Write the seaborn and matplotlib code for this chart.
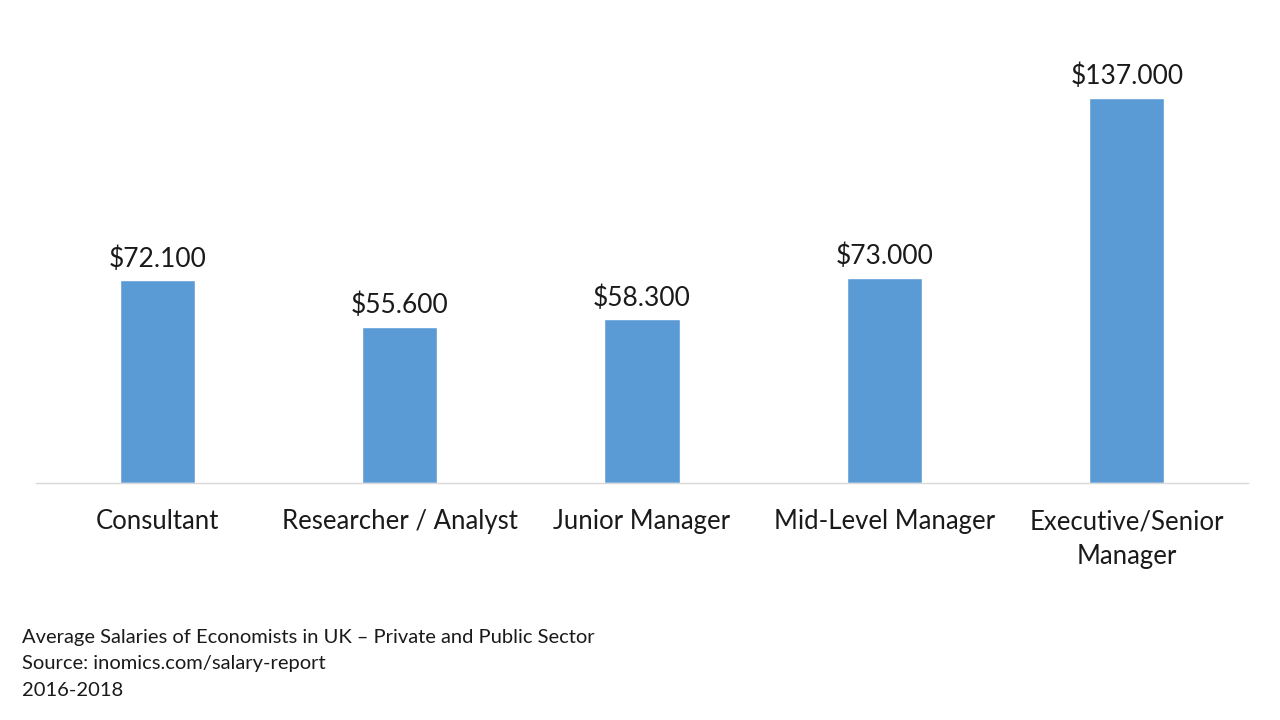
import matplotlib
matplotlib.use("Agg")
import matplotlib.pyplot as plt
import seaborn as sns
import pandas as pd

# %% data
roles = ["Consultant", "Researcher / Analyst", "Junior Manager",
         "Mid-Level Manager", "Executive/Senior\nManager"]
salaries = [72100, 55600, 58300, 73000, 137000]
value_labels = ["$72.100", "$55.600", "$58.300", "$73.000", "$137.000"]
notes = ["Average Salaries of Economists in UK \u2013 Private and Public Sector",
         "Source: inomics.com/salary-report",
         "2016-2018"]

df = pd.DataFrame({"role": roles, "salary": salaries})

# %% plot
sns.set_style("white")
plt.rcParams["font.family"] = ["Lato", "DejaVu Sans"]

fig = plt.figure(figsize = (12.8, 7.2), dpi = 100)
ax = fig.add_axes([36 / 1280, (720 - 483) / 720, 1212 / 1280, 450 / 720])

sns.barplot(data = df, x = "role", y = "salary", color = "#5B9BD5",
            saturation = 1, width = 0.31, ax = ax)

ax.bar_label(ax.containers[0], labels = value_labels, padding = 6,
             fontsize = 19, color = "#1a1a1a")

ax.set_xlim(-0.5, 4.5)
ax.set_ylim(0, 160000)
ax.set_xlabel("")
ax.set_ylabel("")
ax.set_yticks([])
ax.tick_params(axis = "x", length = 0, pad = 19, labelsize = 18.5, labelcolor = "#1a1a1a")
for lbl in ax.get_xticklabels():
    lbl.set_linespacing(1.5)

for side in ["top", "right", "left"]:
    ax.spines[side].set_visible(False)
ax.spines["bottom"].set_color("#D9D9D9")
ax.spines["bottom"].set_linewidth(1)

# footnote, one line at a time
for i, note in enumerate(notes):
    fig.text(22 / 1280, 1 - (638 + 26 * i) / 720, note,
             ha = "left", va = "center", fontsize = 14.5, color = "#1a1a1a")

fig.savefig("out.png", dpi = 100)
